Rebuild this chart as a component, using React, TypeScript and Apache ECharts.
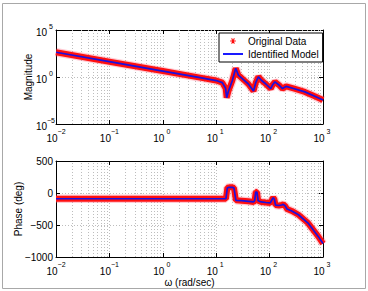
import React, { useEffect, useRef } from 'react';
import * as echarts from 'echarts';

// Frequency (rad/sec) and magnitude
const magFreq = [0.01, 0.1, 1, 5, 10, 13, 15, 15.7, 17, 20, 23.2, 26, 32, 40, 50, 55, 61.7, 70, 85, 105, 115, 126, 150, 174, 190, 204, 280, 457, 700, 1000];
const magValues = [427, 42.7, 4.27, 0.85, 0.42, 0.25, 0.063, 0.0063, 0.032, 0.4, 8.5, 1.6, 0.56, 0.18, 0.032, 0.25, 1.07, 0.45, 0.18, 0.058, 0.16, 0.3, 0.14, 0.058, 0.08, 0.1, 0.06, 0.026, 0.0089, 0.0035];

// Frequency (rad/sec) and phase (deg)
const phaseFreq = [0.01, 10, 15.2, 16.2, 17.5, 20, 21.5, 23.4, 30, 40, 50, 52.5, 55, 58, 61, 70, 85, 103, 110, 117, 123, 129, 150, 168, 180, 195, 212, 260, 347, 525, 813, 1000];
const phaseValues = [-90, -90, -90, 82, 88, 88, 80, -115, -120, -130, -140, -120, 15, 15, -120, -140, -148, -155, -110, -72, -100, -188, -195, -188, -178, -200, -250, -280, -340, -470, -678, -790];

const xMin = 0.01;
const xMax = 1000;
const decades = [0.01, 0.1, 1, 10, 100];
const minorMultipliers = [2, 3, 4, 5, 6, 7, 8, 9];
const magMin = 1e-5;
const magMax = 1e5;
const phaseMin = -1000;
const phaseMax = 500;
const phaseStep = 500;

const FONT = '"Liberation Sans", Arial, Helvetica, sans-serif';
const GRID_COLOR = '#bdbdbd';

function expLabel(v: number) {
  const e = Math.round(Math.log10(v));
  const s = e < 0 ? '\u2212' + Math.abs(e) : String(e);
  return `{b|10}{s|${s}}`;
}

const rich = {
  b: { fontSize: 10, fontFamily: FONT, color: '#000', lineHeight: 15, verticalAlign: 'bottom' },
  s: { fontSize: 7, fontFamily: FONT, color: '#000', lineHeight: 8, verticalAlign: 'top', width: 8, align: 'left' },
};

const dotted = { color: GRID_COLOR, type: [1, 2] as any, width: 1 };
const nameStyle = { fontSize: 10, fontFamily: FONT, color: '#000' };

function mainX(gridIndex: number, name: string) {
  return {
    type: 'log', logBase: 10, gridIndex, min: xMin, max: xMax, position: 'bottom',
    axisLine: { show: true, onZero: false, lineStyle: { color: '#000', width: 1 } },
    axisTick: { show: true, inside: true, length: 4, lineStyle: { color: '#000' } },
    axisLabel: { formatter: expLabel, rich, margin: 4, color: '#000' },
    splitLine: { show: true, lineStyle: dotted },
    name, nameLocation: 'middle', nameGap: 20, nameMoveOverlap: false,
    nameTextStyle: nameStyle,
  };
}
function topX(gridIndex: number) {
  return {
    type: 'log', logBase: 10, gridIndex, min: xMin, max: xMax, position: 'top',
    axisLine: { show: true, onZero: false, lineStyle: { color: '#000', width: 1 } },
    axisTick: { show: true, inside: true, length: 4, lineStyle: { color: '#000' } },
    axisLabel: { show: false }, splitLine: { show: false },
  };
}
function rightY(gridIndex: number, base: any) {
  return {
    ...base, gridIndex, position: 'right', name: '',
    axisLabel: { show: false }, splitLine: { show: false },
  };
}

const magY = {
  type: 'log', logBase: 10, gridIndex: 0, min: magMin, max: magMax, position: 'left',
  axisLine: { show: true, onZero: false, lineStyle: { color: '#000', width: 1 } },
  axisTick: { show: true, inside: true, length: 4, lineStyle: { color: '#000' } },
  axisLabel: { formatter: expLabel, rich, margin: 1, color: '#000' },
  splitLine: { show: true, lineStyle: dotted },
  name: 'Magnitude', nameLocation: 'middle', nameGap: 23, nameMoveOverlap: false,
  nameTextStyle: nameStyle,
};
const phaseY = {
  type: 'value', gridIndex: 1, min: phaseMin, max: phaseMax, interval: phaseStep, position: 'left',
  axisLine: { show: true, onZero: false, lineStyle: { color: '#000', width: 1 } },
  axisTick: { show: true, inside: true, length: 4, lineStyle: { color: '#000' } },
  axisLabel: {
    formatter: (v: number) => (v < 0 ? '\u2212' + Math.abs(v) : String(v)),
    margin: 3, color: '#000', fontSize: 10, fontFamily: FONT,
  },
  splitLine: { show: true, lineStyle: dotted },
  name: 'Phase (deg)', nameLocation: 'middle', nameGap: 33, nameMoveOverlap: false,
  nameTextStyle: nameStyle,
};

const minorLines = decades.flatMap((d) => minorMultipliers.map((m) => ({ xAxis: d * m })));

function minorSeries(xi: number, yi: number) {
  return {
    type: 'line', xAxisIndex: xi, yAxisIndex: yi, data: [], silent: true,
    markLine: {
      silent: true, symbol: ['none', 'none'], label: { show: false }, z: 1,
      lineStyle: dotted, data: minorLines, animation: false,
    },
  };
}

const magPairs = magFreq.map((f, i) => [f, magValues[i]]);
const phasePairs = phaseFreq.map((f, i) => [f, phaseValues[i]]);

function curveSeries(xi: number, yi: number, data: number[][]) {
  return [
    {
      type: 'line', xAxisIndex: xi, yAxisIndex: yi, data, symbol: 'none', silent: true,
      lineStyle: { color: 'rgba(255,80,110,0.3)', width: 8.5 }, z: 2,
    },
    {
      name: 'Original Data', type: 'line', xAxisIndex: xi, yAxisIndex: yi, data, symbol: 'none',
      color: '#ff0000', lineStyle: { color: '#ff1010', width: 6 }, z: 3,
    },
    {
      name: 'Identified Model', type: 'line', xAxisIndex: xi, yAxisIndex: yi, data, symbol: 'none',
      color: '#0000ff', lineStyle: { color: '#1a10e0', width: 1.7 }, z: 4,
    },
  ];
}

const asteriskIcon =
  'path://M0,0 M20,10 M7.2,4.6 L12.8,4.6 L12.8,5.4 L7.2,5.4 Z M9.6,2.2 L10.4,2.2 L10.4,7.8 L9.6,7.8 Z M8,2.6 L8.6,2.2 L12,7.4 L11.4,7.8 Z M11.4,2.2 L12,2.6 L8.6,7.8 L8,7.4 Z';

export default function App() {
  const ref = useRef<HTMLDivElement>(null);
  useEffect(() => {
    if (!ref.current) return;
    const chart = echarts.init(ref.current, undefined, { renderer: 'svg' });
    chart.setOption({
      animation: false,
      backgroundColor: '#ffffff',
      graphic: [
        {
          type: 'rect', silent: true, z: 0,
          shape: { x: 2.5, y: 3.5, width: 363, height: 285 },
          style: { fill: 'none', stroke: '#a8a8a8', lineWidth: 1 },
        },
      ],
      legend: {
        left: 219, top: 33, orient: 'vertical',
        data: [
          { name: 'Original Data', icon: asteriskIcon, itemStyle: { borderWidth: 0 } },
          { name: 'Identified Model', icon: 'path://M0,0 L20,0 L20,1.8 L0,1.8 Z', itemStyle: { borderWidth: 0 } },
        ],
        itemWidth: 20, itemHeight: 10, itemGap: 3,
        padding: [3, 4, 3, 4],
        borderColor: '#000', borderWidth: 1, backgroundColor: '#fff',
        textStyle: { fontSize: 10, fontFamily: FONT, color: '#000' },
        selectedMode: false, z: 10,
      },
      grid: [
        { left: 56, top: 30, width: 267, height: 94 },
        { left: 56, top: 161, width: 267, height: 96 },
      ],
      xAxis: [mainX(0, ''), topX(0), mainX(1, '\u03c9 (rad/sec)'), topX(1)],
      yAxis: [magY, rightY(0, magY), phaseY, rightY(1, phaseY)],
      series: [
        minorSeries(0, 0),
        minorSeries(2, 2),
        ...curveSeries(0, 0, magPairs),
        ...curveSeries(2, 2, phasePairs),
      ],
    });
    return () => chart.dispose();
  }, []);
  return <div ref={ref} style={{ position: 'fixed', left: 0, top: 0, width: 368, height: 291 }} />;
}
